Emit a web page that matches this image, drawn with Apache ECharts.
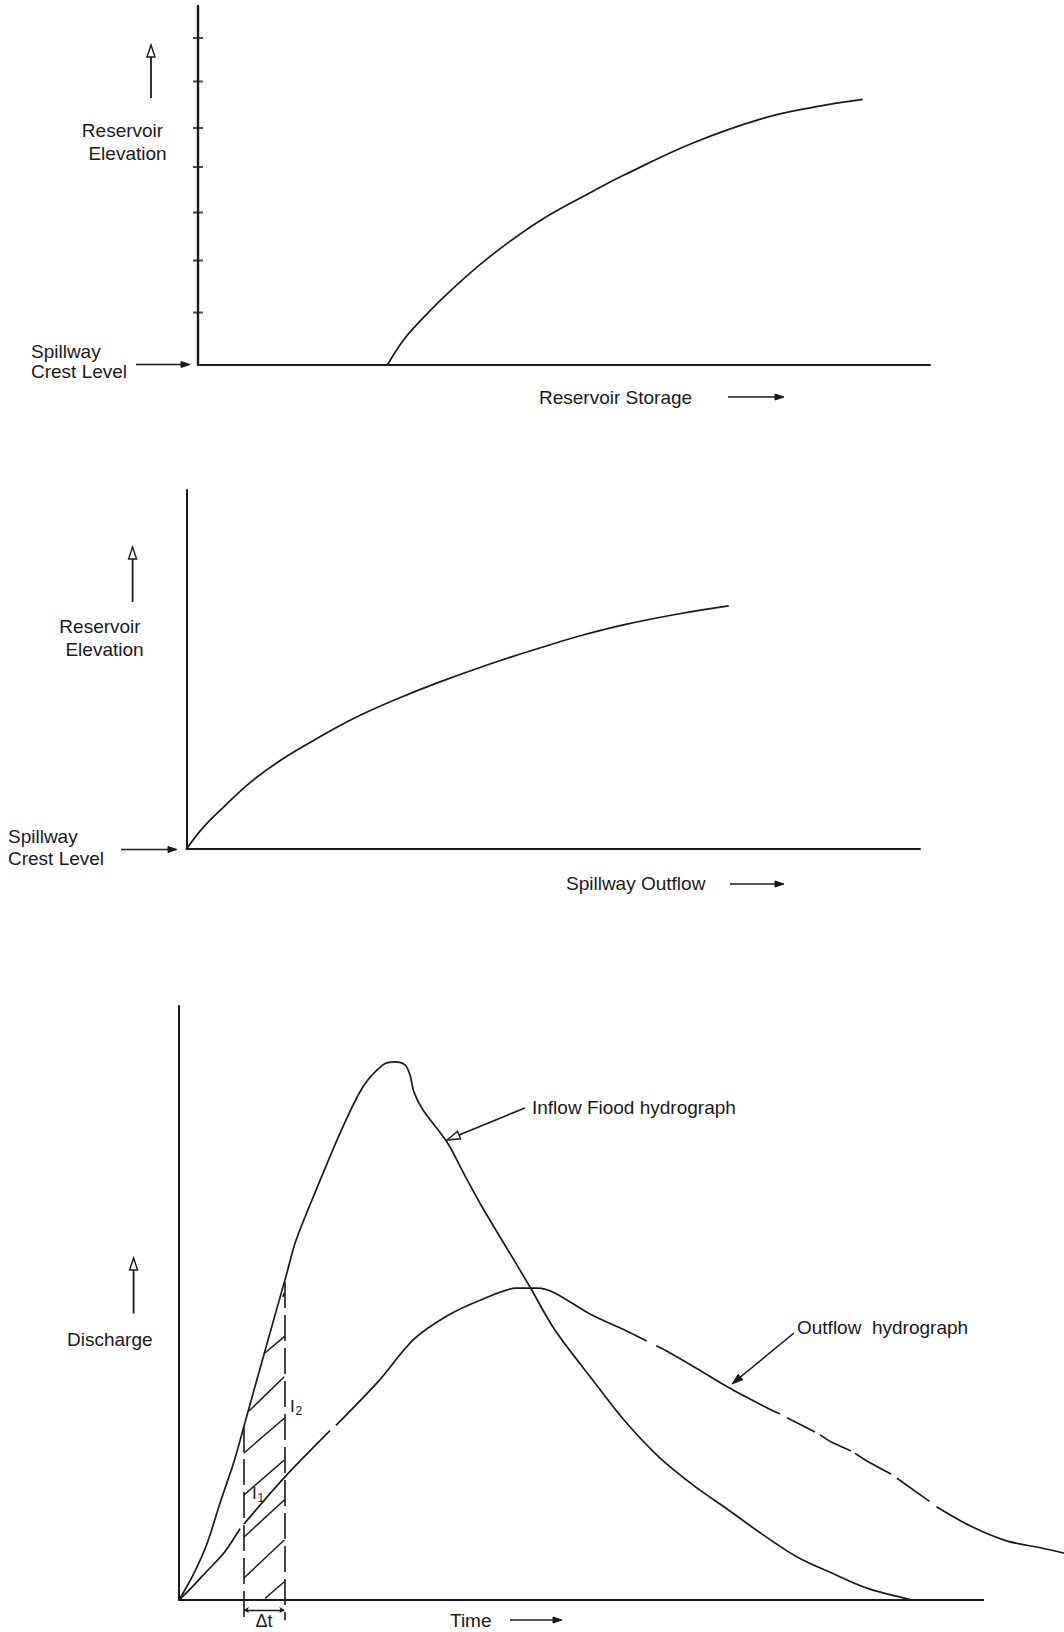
<!DOCTYPE html>
<html><head><meta charset="utf-8">
<script src="https://cdn.jsdelivr.net/npm/echarts@6/dist/echarts.min.js"></script>
<style>html,body{margin:0;padding:0;background:#fff}#c{width:1064px;height:1632px}</style>
</head><body><div id="c"></div>
<script>
// ---------- Chart 1: reservoir elevation vs storage (axis units 0..100) ----------
const storageX    = [25.87, 27.73, 29.4, 34.11, 39.75, 46.72, 53.96, 58.2, 67.69, 77.17, 84.29, 90.82];
const storageElev = [0, 5.99, 10.2, 19.97, 30.0, 40.2, 48.4, 52.9, 61.9, 68.7, 71.9, 74.0];
const elevationTicks = [14.62, 29.11, 42.48, 55.15, 66.02, 78.97, 91.09];

// ---------- Chart 2: reservoir elevation vs spillway outflow ----------
const spillQ    = [0, 2.25, 5.09, 8.63, 12.88, 17.15, 22.84, 28.51, 34.18, 41.28, 48.37, 54.06, 59.73, 66.83, 73.92];
const spillElev = [0, 5.96, 11.75, 18.44, 24.79, 30.03, 36.41, 41.64, 46.27, 51.48, 56.13, 59.61, 62.51, 65.4, 67.72];

// ---------- Chart 3: hydrographs (time axis drawn to 100, outflow runs past it) ----------
const inflowT = [0, 1.71, 3.43, 5.14, 6.86, 8.14, 10.71, 13.27, 14.55, 17.12, 20.11, 22.86, 25.34, 26.83, 28.07, 28.7, 29.19, 30.31, 33.29, 35.53, 37.64, 41.93, 43.6, 46.67, 51.42, 55.28, 59.6, 63.91, 68.22, 72.53, 76.84, 81.16, 85.47, 91.06];
const inflowQ = [0, 4.1, 9.3, 16.5, 23.4, 29.6, 42.1, 54.4, 60.6, 69.3, 78.9, 86.4, 90.1, 90.6, 90.1, 88.4, 85.5, 82.5, 77.1, 71.4, 66.2, 56.5, 52.7, 45.5, 37.0, 30.3, 24.1, 19.3, 15.2, 11.0, 7.2, 4.5, 2.0, 0];
// null = break in the drawn outflow line
const outflowT = [0, 1.71, 3.43, 5.57, 7.58, null, 8.07, 13.08, 18.76, null, 19.5, 24.82, 29.09, 33.38, 37.64, 41.93, 44.51, 46.67, 50.98, 55.29, 58.1, null, 59.3, 60.46, 63.91, 68.22, 72.53, 74.66, null, 75.53, 79.01, null, 79.63, 81.16, 83.48, null, 83.98, 85.47, 88.45, null, 89.19, 93.23, null, 94.1, 98.39, 102.71, 107.02, 109.94];
const outflowQ = [0, 2.3, 4.8, 7.9, 12.0, null, 12.8, 20.6, 28.5, null, 29.4, 36.9, 43.8, 47.9, 50.6, 52.5, 52.5, 51.7, 48.2, 45.5, 43.6, null, 42.8, 42.0, 39.3, 35.8, 32.7, 31.3, null, 30.7, 28.3, null, 27.8, 26.5, 25.1, null, 24.7, 23.4, 21.2, null, 20.5, 16.6, null, 15.7, 12.4, 10.0, 8.8, 7.9];
const timeAxisEnd = 100;
// routing interval t1..t2 and where its verticals meet the inflow curve
const deltaT = [8.07, 13.08];
const deltaTop = [29.3, 53.55];
const deltaBottom = -3.4;
const dimLevel = -1.68;
// hatch segments
const hatchX1 = [12.9, 10.68, 8.70, 8.07, 8.07, 8.07, 8.07, 10.68];
const hatchY1 = [51.0, 41.58, 31.82, 24.75, 17.68, 10.61, 3.70, 0.25];
const hatchX2 = [13.08, 13.08, 13.08, 13.08, 13.08, 13.08, 13.08, 13.08];
const hatchY2 = [51.7, 44.33, 37.59, 30.59, 23.57, 16.84, 10.10, 3.08];

const INK = '#1a1a1a';
const FONT = '"Liberation Sans", Arial, Helvetica, sans-serif';

function zip(a, b) { return a.map((v, i) => [v, b[i]]); }
function segments(xs, ys) {
  const out = []; let cur = [];
  xs.forEach((x, i) => {
    if (x === null) { if (cur.length) out.push(cur); cur = []; }
    else cur.push([x, ys[i]]);
  });
  if (cur.length) out.push(cur);
  return out;
}

function axisPair(idx, yWidth, xMax, showX) {
  return {
    x: { gridIndex: idx, type: 'value', min: 0, max: xMax,
      axisLine: { show: showX, onZero: false, lineStyle: { color: INK, width: 2 } },
      axisTick: { show: false }, axisLabel: { show: false }, splitLine: { show: false } },
    y: { gridIndex: idx, type: 'value', min: 0, max: 100,
      axisLine: { show: true, onZero: false, lineStyle: { color: INK, width: yWidth } },
      axisTick: { show: false }, axisLabel: { show: false }, splitLine: { show: false } }
  };
}
const a1 = axisPair(0, 2.4, 100, true), a2 = axisPair(1, 2, 100, true), a3 = axisPair(2, 2, 109.94, false);

function curve(idx, data, smooth) {
  return { type: 'line', xAxisIndex: idx, yAxisIndex: idx, data: data, smooth: smooth,
    symbol: 'none', showSymbol: false, clip: false, silent: true,
    lineStyle: { color: INK, width: 1.7 } };
}

const series = [];
series.push(curve(0, zip(storageX, storageElev), 0.4));
series.push({ type: 'scatter', xAxisIndex: 0, yAxisIndex: 0, clip: false, silent: true,
  symbol: 'rect', symbolSize: [10, 2], itemStyle: { color: INK },
  data: elevationTicks.map(v => [0, v]) });
series.push(curve(1, zip(spillQ, spillElev), 0.4));
series.push(curve(2, zip(inflowT, inflowQ), 0.3));
segments(outflowT, outflowQ).forEach(s => series.push(curve(2, s, 0.3)));
// time axis baseline (ends before the outflow tail)
series.push({ type: 'lines', coordinateSystem: 'cartesian2d', xAxisIndex: 2, yAxisIndex: 2,
  clip: false, silent: true, symbol: 'none',
  lineStyle: { color: INK, width: 2, opacity: 1 },
  data: [{ coords: [[0, 0], [timeAxisEnd, 0]] }] });
// dashed verticals of the routing interval
series.push({ type: 'lines', coordinateSystem: 'cartesian2d', xAxisIndex: 2, yAxisIndex: 2,
  clip: false, silent: true, symbol: 'none',
  lineStyle: { color: INK, width: 1.6, type: [26, 7], opacity: 1 },
  data: deltaT.map((t, i) => ({ coords: [[t, deltaTop[i]], [t, deltaBottom]] })) });
// hatching
series.push({ type: 'lines', coordinateSystem: 'cartesian2d', xAxisIndex: 2, yAxisIndex: 2,
  clip: false, silent: true, symbol: 'none',
  lineStyle: { color: INK, width: 1.5, opacity: 1 },
  data: hatchX1.map((x, i) => ({ coords: [[x, hatchY1[i]], [hatchX2[i], hatchY2[i]]] })) });
// Δt dimension line
series.push({ type: 'lines', coordinateSystem: 'cartesian2d', xAxisIndex: 2, yAxisIndex: 2,
  clip: false, silent: true, symbol: ['arrow', 'arrow'], symbolSize: 5,
  lineStyle: { color: INK, width: 1.4, opacity: 1 },
  data: [{ coords: [[deltaT[0], dimLevel], [deltaT[1], dimLevel]] }] });

// ---------- annotations ----------
function txt(text, x, y, size, align) {
  return { type: 'text', x: x, y: y, silent: true,
    style: { text: text, fill: INK, fontSize: size || 19, fontFamily: FONT,
      align: align || 'left', verticalAlign: 'middle' } };
}
function arrow(x1, y1, x2, y2, open, head, w, lw) {
  const dx = x2 - x1, dy = y2 - y1, L = Math.hypot(dx, dy), ux = dx / L, uy = dy / L;
  const nx = -uy, ny = ux;
  const bx = x2 - ux * head, by = y2 - uy * head;
  const ex = open ? bx : x2 - ux * head * 0.5, ey = open ? by : y2 - uy * head * 0.5;
  return [
    { type: 'line', silent: true, shape: { x1: x1, y1: y1, x2: ex, y2: ey },
      style: { stroke: INK, lineWidth: lw || 1.7 } },
    { type: 'polygon', silent: true,
      shape: { points: [[x2, y2], [bx + nx * w / 2, by + ny * w / 2], [bx - nx * w / 2, by - ny * w / 2]] },
      style: { fill: open ? '#fff' : INK, stroke: INK, lineWidth: open ? 1.4 : 1 } }
  ];
}

const graphics = [].concat(
  // chart 1
  [txt('Reservoir', 122.5, 130.5, 19, 'center'), txt('Elevation', 127.5, 153, 19, 'center'),
   txt('Spillway', 31, 351.5), txt('Crest Level', 31, 371.5),
   txt('Reservoir Storage', 539, 397)],
  arrow(151, 98, 151, 45, true, 12, 8, 1.8),
  arrow(136, 364.5, 190, 364.5, false, 9, 6),
  arrow(728, 397, 784, 397, false, 9, 6),
  // chart 2
  [txt('Reservoir', 100, 626.5, 19, 'center'), txt('Elevation', 104.5, 649.5, 19, 'center'),
   txt('Spillway', 8, 836), txt('Crest Level', 8, 858.5),
   txt('Spillway Outflow', 566, 883.5)],
  arrow(132.6, 602, 132.6, 547, true, 12, 8, 1.8),
  arrow(121, 849.5, 177, 849.5, false, 9, 6),
  arrow(730, 884, 784, 884, false, 9, 6),
  // chart 3
  [txt('Discharge', 67, 1339), txt('Inflow Fiood hydrograph', 532, 1107),
   txt('Outflow  hydrograph', 797, 1327), txt('Time', 450, 1620),
   txt('\u0394t', 264, 1621, 18, 'center'),
   txt('I', 290, 1406, 17), txt('2', 295.5, 1411, 12),
   txt('I', 252, 1493, 17), txt('1', 257.5, 1498, 12)],
  arrow(133.6, 1313.5, 133.6, 1258, true, 12, 8, 1.8),
  arrow(525, 1108, 447, 1140, true, 13, 8, 1.6),
  arrow(794, 1333, 732, 1384, false, 11, 7, 1.6),
  arrow(510, 1620, 562, 1620, false, 9, 6)
);

const chart = echarts.init(document.getElementById('c'), null, { renderer: 'svg' });
chart.setOption({
  animation: false,
  backgroundColor: '#ffffff',
  grid: [
    { left: 198, top: 6, width: 732, height: 359 },
    { left: 186.5, top: 490, width: 733.5, height: 359 },
    { left: 179, top: 1006, width: 885, height: 594 }
  ],
  xAxis: [a1.x, a2.x, a3.x],
  yAxis: [a1.y, a2.y, a3.y],
  series: series,
  graphic: graphics
});
</script></body></html>
